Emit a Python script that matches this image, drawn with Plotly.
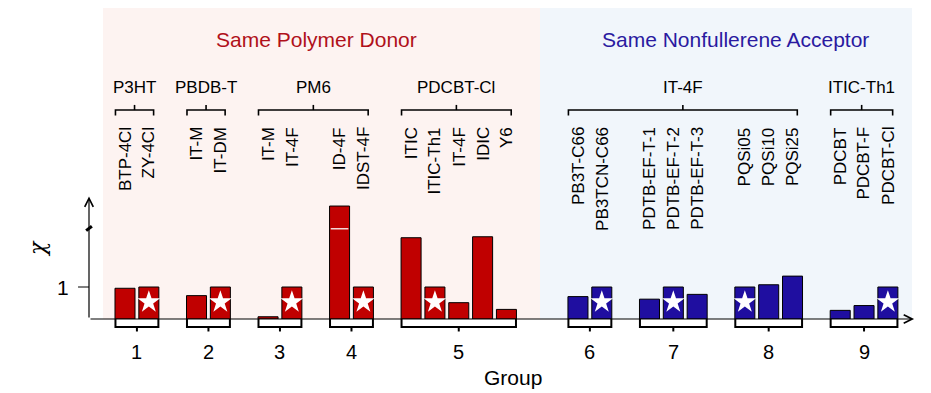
import plotly.graph_objects as go

# ---------------- data ----------------
donor_labels = ["BTP-4Cl", "ZY-4Cl", "IT-M", "IT-DM", "IT-M", "IT-4F", "ID-4F", "IDST-4F",
                "ITIC", "ITIC-Th1", "IT-4F", "IDIC", "Y6"]
donor_values = [0.96, 1.0, 0.73, 1.0, 0.07, 1.0, 3.53, 1.0, 2.54, 1.0, 0.51, 2.57, 0.30]
donor_slots = [0, 1, 3, 4, 6, 7, 9, 10, 12, 13, 14, 15, 16]
donor_star = [False, True, False, True, False, True, False, True, False, True, False, False, False]

acc_labels = ["PB3T-C66", "PB3TCN-C66", "PDTB-EF-T-1", "PDTB-EF-T-2", "PDTB-EF-T-3",
              "PQSi05", "PQSi10", "PQSi25", "PDCBT", "PDCBT-F", "PDCBT-Cl"]
acc_values = [0.70, 1.0, 0.62, 1.0, 0.77, 1.0, 1.07, 1.34, 0.27, 0.42, 1.0]
acc_slots = [19, 20, 22, 23, 24, 26, 27, 28, 30, 31, 32]
acc_star = [False, True, False, True, False, True, False, False, False, False, True]

group_numbers = ["1", "2", "3", "4", "5", "6", "7", "8", "9"]
group_slots = [[0, 1], [3, 4], [6, 7], [9, 10], [12, 13, 14, 15, 16],
               [19, 20], [22, 23, 24], [26, 27, 28], [30, 31, 32]]

top_labels = ["P3HT", "PBDB-T", "PM6", "PDCBT-Cl", "IT-4F", "ITIC-Th1"]
top_spans = [[0, 1], [3, 4], [6, 10], [12, 16], [19, 28], [30, 32]]

section_titles = ["Same Polymer Donor", "Same Nonfullerene Acceptor"]
y_tick_vals = [1]
y_tick_text = ["1"]

# ---------------- style ----------------
RED = "#c00000"
BLUE = "#1f0ea0"
RED_T = "#b0101a"
BLUE_T = "#2a1aa0"
FONT = "Liberation Sans, Arial, sans-serif"
BW = 0.84

W, H = 923, 385
XMIN = -117 / 23.84
XMAX = XMIN + W / 23.84
YMAX = 311 / 32
YMIN = (311 - H) / 32
XAX = -1.51  # y-axis position (slot units)

fig = go.Figure()

# background panels
fig.add_shape(type="rect", x0=-0.923, x1=17.41, y0=0, y1=9.81,
              fillcolor="#fdf3f1", line_width=0, layer="below")
fig.add_shape(type="rect", x0=17.41, x1=33.01, y0=0, y1=9.81,
              fillcolor="#f1f6fb", line_width=0, layer="below")

fig.add_trace(go.Bar(x=donor_slots, y=donor_values, width=BW,
                     marker=dict(color=RED, line=dict(color="black", width=1)),
                     hoverinfo="skip", showlegend=False))
fig.add_trace(go.Bar(x=acc_slots, y=acc_values, width=BW,
                     marker=dict(color=BLUE, line=dict(color="black", width=1)),
                     hoverinfo="skip", showlegend=False))

star_x = [s for s, f in zip(donor_slots + acc_slots, donor_star + acc_star) if f]
fig.add_trace(go.Scatter(x=star_x, y=[0.53] * len(star_x), mode="markers",
                         marker=dict(symbol="star", size=17, color="white", line_width=0),
                         hoverinfo="skip", showlegend=False))

# axis break on tall bar and on y axis
fig.add_shape(type="line", x0=9 - BW / 2 + 0.05, x1=9 + BW / 2 - 0.05, y0=2.82, y1=2.82,
              line=dict(color="#f3d6d6", width=1.5))
fig.add_shape(type="line", x0=XAX - 0.12, x1=XAX + 0.12, y0=2.76, y1=2.9,
              line=dict(color="black", width=3))

# axes with arrows
fig.add_annotation(x=33.1, y=0, ax=XAX, ay=0, axref="x", ayref="y", xref="x", yref="y",
                   text="", showarrow=True, arrowhead=5, arrowsize=1.4, arrowwidth=1.2,
                   arrowcolor="black")
fig.add_annotation(x=XAX, y=3.83, ax=XAX, ay=0, axref="x", ayref="y", xref="x", yref="y",
                   text="", showarrow=True, arrowhead=5, arrowsize=1.4, arrowwidth=1.2,
                   arrowcolor="black")

# y tick
for v, t in zip(y_tick_vals, y_tick_text):
    fig.add_shape(type="line", x0=XAX - 0.46, x1=XAX, y0=v, y1=v,
                  line=dict(color="black", width=1))
    fig.add_annotation(x=-2.62, y=v, text=t, showarrow=False, xanchor="center",
                       font=dict(family=FONT, size=21, color="black"))

fig.add_annotation(x=-3.65, y=2.22, text="<i>χ</i>", showarrow=False, textangle=-90,
                   font=dict(family="DejaVu Serif, serif", size=22, color="black"))

# bottom brackets + group numbers
for num, slots in zip(group_numbers, group_slots):
    a, b = slots[0] - 0.4, slots[-1] + 0.4
    c = (slots[0] + slots[-1]) / 2
    fig.add_shape(type="path",
                  path=f"M {a} 0 L {a} -0.25 L {b} -0.25 L {b} 0",
                  line=dict(color="black", width=2), fillcolor="white")
    fig.add_shape(type="line", x0=c, x1=c, y0=-0.25, y1=-0.39,
                  line=dict(color="black", width=2))
    fig.add_annotation(x=c, y=-1.03, text=num, showarrow=False,
                       font=dict(family=FONT, size=20, color="black"))

fig.add_annotation(x=16.27, y=-1.84, text="Group", showarrow=False,
                   font=dict(family=FONT, size=21, color="black"))

# rotated bar labels
for s, lab in zip(donor_slots + acc_slots, donor_labels + acc_labels):
    fig.add_annotation(x=s, y=6.06, text=lab, showarrow=False, textangle=-90,
                       xanchor="center", yanchor="top",
                       font=dict(family=FONT, size=17, color="black"))

# top brackets + labels
for lab, (s0, s1) in zip(top_labels, top_spans):
    a, b = s0 - 0.4, s1 + 0.2
    c = (a + b) / 2
    fig.add_shape(type="path",
                  path=f"M {a} 6.36 L {a} 6.53 L {b} 6.53 L {b} 6.36",
                  line=dict(color="black", width=1.6))
    fig.add_shape(type="line", x0=c, x1=c, y0=6.53, y1=6.69,
                  line=dict(color="black", width=1.6))
    fig.add_annotation(x=c, y=7.22, text=lab, showarrow=False,
                       font=dict(family=FONT, size=17, color="black"))

# section titles
fig.add_annotation(x=8.05, y=8.72, text=section_titles[0], showarrow=False,
                   font=dict(family=FONT, size=21, color=RED_T))
fig.add_annotation(x=25.6, y=8.72, text=section_titles[1], showarrow=False,
                   font=dict(family=FONT, size=21, color=BLUE_T))

fig.update_layout(
    width=W, height=H,
    margin=dict(l=0, r=0, t=0, b=0),
    paper_bgcolor="white", plot_bgcolor="white",
    barmode="overlay",
    xaxis=dict(range=[XMIN, XMAX], visible=False, fixedrange=True),
    yaxis=dict(range=[YMIN, YMAX], visible=False, fixedrange=True),
    showlegend=False,
)

fig.write_html("out.html")
